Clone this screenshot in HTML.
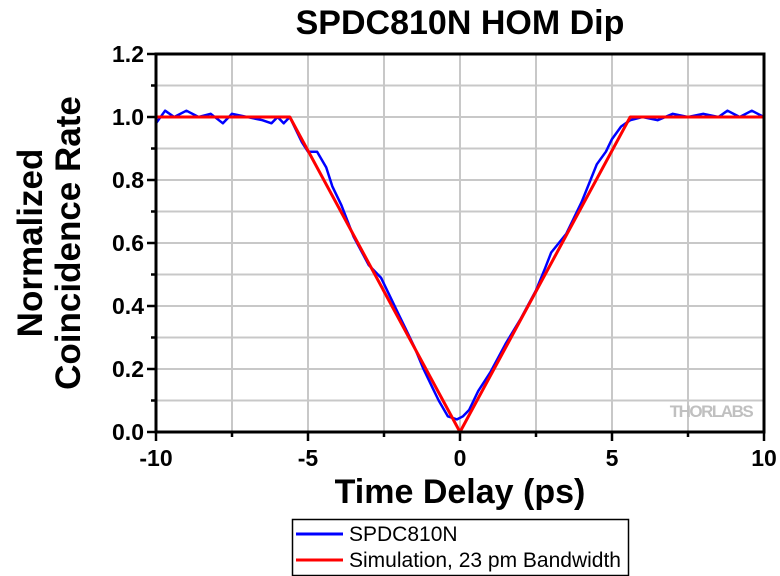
<!DOCTYPE html>
<html><head><style>body{margin:0;background:#fff}svg{display:block}</style></head><body>
<svg width="780" height="576" xmlns="http://www.w3.org/2000/svg" font-family="Liberation Sans, Arial, sans-serif">
<rect width="780" height="576" fill="#fff"/>
<g stroke="#c8c8c8" stroke-width="2">
<line x1="232" y1="54" x2="232" y2="432"/><line x1="308" y1="54" x2="308" y2="432"/><line x1="384" y1="54" x2="384" y2="432"/><line x1="460" y1="54" x2="460" y2="432"/><line x1="536" y1="54" x2="536" y2="432"/><line x1="612" y1="54" x2="612" y2="432"/><line x1="688" y1="54" x2="688" y2="432"/>
<line x1="156" y1="400.5" x2="764" y2="400.5"/><line x1="156" y1="369" x2="764" y2="369"/><line x1="156" y1="337.5" x2="764" y2="337.5"/><line x1="156" y1="306" x2="764" y2="306"/><line x1="156" y1="274.5" x2="764" y2="274.5"/><line x1="156" y1="243" x2="764" y2="243"/><line x1="156" y1="211.5" x2="764" y2="211.5"/><line x1="156" y1="180" x2="764" y2="180"/><line x1="156" y1="148.5" x2="764" y2="148.5"/><line x1="156" y1="117" x2="764" y2="117"/><line x1="156" y1="85.5" x2="764" y2="85.5"/>
</g>
<text x="711" y="417" font-size="17" font-weight="bold" fill="#c0c0c0" text-anchor="middle" letter-spacing="-1.5">THORLABS</text>
<polyline fill="none" stroke="#0000ff" stroke-width="2.5" stroke-linejoin="round" points="156,123.3 165.1,110.7 174.2,117 186.4,110.7 198.6,117 210.7,113.8 222.9,123.3 232,113.8 247.2,117 262.4,120.2 271.5,123.3 277.6,117 283.7,123.3 289.8,117 295.8,129.6 301.9,142.2 308,151.7 317.1,151.7 326.2,167.4 332.3,186.3 341.4,205.2 353.6,236.7 368.8,265.1 381,277.7 390.1,296.6 399.2,315.5 405.3,328.1 414.4,347 423.5,369 432.6,387.9 438.7,400.5 447.8,416.3 457,419.4 463,416.3 469.1,410 478.2,391.1 490.4,372.2 505.6,343.8 520.8,318.6 536,290.3 545.1,268.2 551.2,252.5 566.4,233.6 581.6,202.1 596.8,164.3 605.9,151.7 612,139.1 621.1,126.5 630.2,120.2 642.4,117 657.6,120.2 672.8,113.8 688,117 703.2,113.8 718.4,117 727.5,110.7 739.7,117 751.8,110.7 764,117"/>
<polyline fill="none" stroke="#ff0000" stroke-width="3" stroke-linejoin="round" points="156,117 289.8,117 460,432 630.2,117 764,117"/>
<rect x="156" y="54" width="608" height="378" stroke="#000" stroke-width="3" fill="none"/>
<g stroke="#000" stroke-width="2.5">
<line x1="156" y1="432" x2="156" y2="441"/><line x1="232" y1="432" x2="232" y2="437"/><line x1="308" y1="432" x2="308" y2="441"/><line x1="384" y1="432" x2="384" y2="437"/><line x1="460" y1="432" x2="460" y2="441"/><line x1="536" y1="432" x2="536" y2="437"/><line x1="612" y1="432" x2="612" y2="441"/><line x1="688" y1="432" x2="688" y2="437"/><line x1="764" y1="432" x2="764" y2="441"/>
<line x1="147" y1="432" x2="156" y2="432"/><line x1="151" y1="400.5" x2="156" y2="400.5"/><line x1="147" y1="369" x2="156" y2="369"/><line x1="151" y1="337.5" x2="156" y2="337.5"/><line x1="147" y1="306" x2="156" y2="306"/><line x1="151" y1="274.5" x2="156" y2="274.5"/><line x1="147" y1="243" x2="156" y2="243"/><line x1="151" y1="211.5" x2="156" y2="211.5"/><line x1="147" y1="180" x2="156" y2="180"/><line x1="151" y1="148.5" x2="156" y2="148.5"/><line x1="147" y1="117" x2="156" y2="117"/><line x1="151" y1="85.5" x2="156" y2="85.5"/><line x1="147" y1="54" x2="156" y2="54"/>
</g>
<g font-size="23" font-weight="bold" text-anchor="end">
<text x="144" y="440">0.0</text><text x="144" y="377">0.2</text><text x="144" y="314">0.4</text><text x="144" y="251">0.6</text><text x="144" y="188">0.8</text><text x="144" y="125">1.0</text><text x="144" y="62">1.2</text>
</g>
<g font-size="23" font-weight="bold" text-anchor="middle">
<text x="156" y="466">-10</text><text x="308" y="466">-5</text><text x="460" y="466">0</text><text x="612" y="466">5</text><text x="764" y="466">10</text>
</g>
<text x="460" y="34" font-size="34" font-weight="bold" text-anchor="middle">SPDC810N HOM Dip</text>
<text x="460" y="503" font-size="34" font-weight="bold" text-anchor="middle">Time Delay (ps)</text>
<g font-size="35" font-weight="bold" text-anchor="middle">
<text transform="translate(42,243) rotate(-90)">Normalized</text>
<text transform="translate(80,243) rotate(-90)">Coincidence Rate</text>
</g>
<rect x="292.5" y="519.5" width="336" height="56" fill="#fff" stroke="#000" stroke-width="1.5"/>
<line x1="296" y1="534" x2="343" y2="534" stroke="#0000ff" stroke-width="3"/>
<line x1="296" y1="560" x2="343" y2="560" stroke="#ff0000" stroke-width="3"/>
<g font-size="21"><text x="349" y="541">SPDC810N</text><text x="349" y="567">Simulation, 23 pm Bandwidth</text></g>
</svg>
</body></html>
